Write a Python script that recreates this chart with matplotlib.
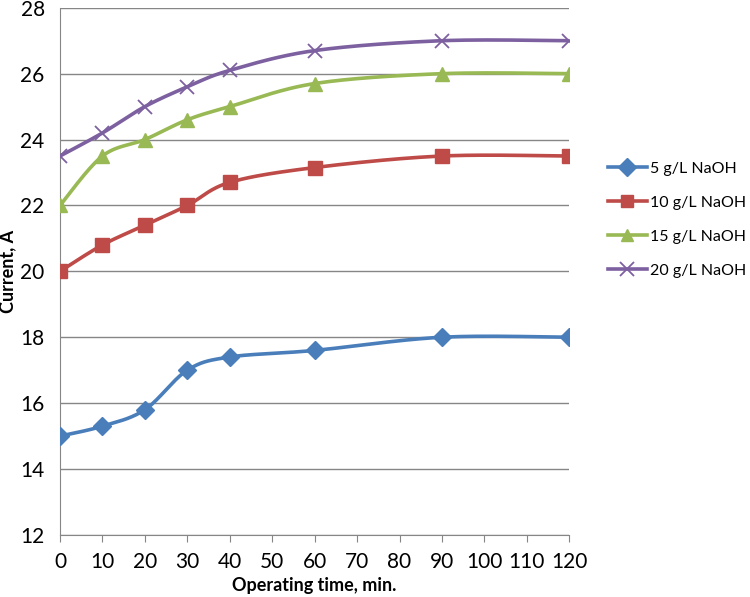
import numpy as np
import matplotlib as mpl
import matplotlib.pyplot as plt

mpl.rcParams['font.family'] = ['Lato', 'DejaVu Sans']

# operating time, min.
time_min = [0, 10, 20, 30, 40, 60, 90, 120]

# current, A
naoh_5 = [15.0, 15.3, 15.8, 17.0, 17.4, 17.6, 18.0, 18.0]
naoh_10 = [20.0, 20.8, 21.4, 22.0, 22.7, 23.15, 23.5, 23.5]
naoh_15 = [22.0, 23.5, 24.0, 24.6, 25.0, 25.7, 26.0, 26.0]
naoh_20 = [23.5, 24.2, 25.0, 25.6, 26.1, 26.7, 27.0, 27.0]

labels = ["5 g/L NaOH", "10 g/L NaOH", "15 g/L NaOH", "20 g/L NaOH"]
colors = ["#4A7EBB", "#BE4B48", "#98B954", "#7D60A0"]
markers = ["D", "s", "^", "x"]


def smooth(x, y, n=30):
    """Excel-style smoothed line: cubic Bezier through the points."""
    x = np.asarray(x, float)
    y = np.asarray(y, float)
    px = np.concatenate([[x[0]], x, [x[-1]]])
    py = np.concatenate([[y[0]], y, [y[-1]]])
    t = np.linspace(0, 1, n)[:, None]
    xs, ys = [], []
    for i in range(len(x) - 1):
        p0 = np.array([x[i], y[i]])
        p3 = np.array([x[i + 1], y[i + 1]])
        p1 = p0 + (np.array([px[i + 2], py[i + 2]]) - np.array([px[i], py[i]])) / 6
        p2 = p3 - (np.array([px[i + 3], py[i + 3]]) - np.array([px[i + 1], py[i + 1]])) / 6
        seg = ((1 - t) ** 3) * p0 + 3 * ((1 - t) ** 2) * t * p1 + 3 * (1 - t) * t ** 2 * p2 + t ** 3 * p3
        xs.append(seg[:, 0])
        ys.append(seg[:, 1])
    return np.concatenate(xs), np.concatenate(ys)


fig = plt.figure(figsize=(7.5, 5.97), dpi=100)
ax = fig.add_axes([0.08, 0.104, 0.679, 0.883])

handles = []
for vals, lab, col, mk in zip([naoh_5, naoh_10, naoh_15, naoh_20], labels, colors, markers):
    sx, sy = smooth(time_min, vals)
    ax.plot(sx, sy, color=col, lw=2.6, zorder=3)
    if mk == "x":
        ax.plot(time_min, vals, ls="none", marker=mk, ms=10, mew=1.3, color=col, zorder=4)
    else:
        ms = 9.5 if mk == "D" else 10
        ax.plot(time_min, vals, ls="none", marker=mk, ms=ms, color=col, mec=col, zorder=4)
    h, = ax.plot([], [], color=col, lw=2.6, marker=mk, ms=9 if mk != "x" else 10,
                 mew=1.3 if mk == "x" else 1, label=lab)
    handles.append(h)

ax.set_xlim(0, 120)
ax.set_ylim(12, 28)
ax.set_xticks(range(0, 121, 10))
ax.set_yticks(range(12, 29, 2))
ax.grid(True, axis="y", color="#868686", lw=1)
ax.set_axisbelow(True)
for s in ["top", "right"]:
    ax.spines[s].set_visible(False)
for s in ["left", "bottom"]:
    ax.spines[s].set_color("#868686")
ax.tick_params(axis="x", direction="out", length=5, color="#868686", labelsize=15, pad=7)
ax.tick_params(axis="y", length=0, labelsize=15, pad=11)

ax.set_xlabel("Operating time, min.", fontsize=13, fontweight="bold", labelpad=4)
ax.set_ylabel("Current, A", fontsize=13, fontweight="bold", labelpad=3)

fig.legend(handles=handles, loc="center left", bbox_to_anchor=(0.81, 0.632),
           frameon=False, fontsize=11.5, handlelength=2.5, labelspacing=1.25,
           handletextpad=0.15, borderaxespad=0, borderpad=0)

fig.savefig("out.png", dpi=100)
